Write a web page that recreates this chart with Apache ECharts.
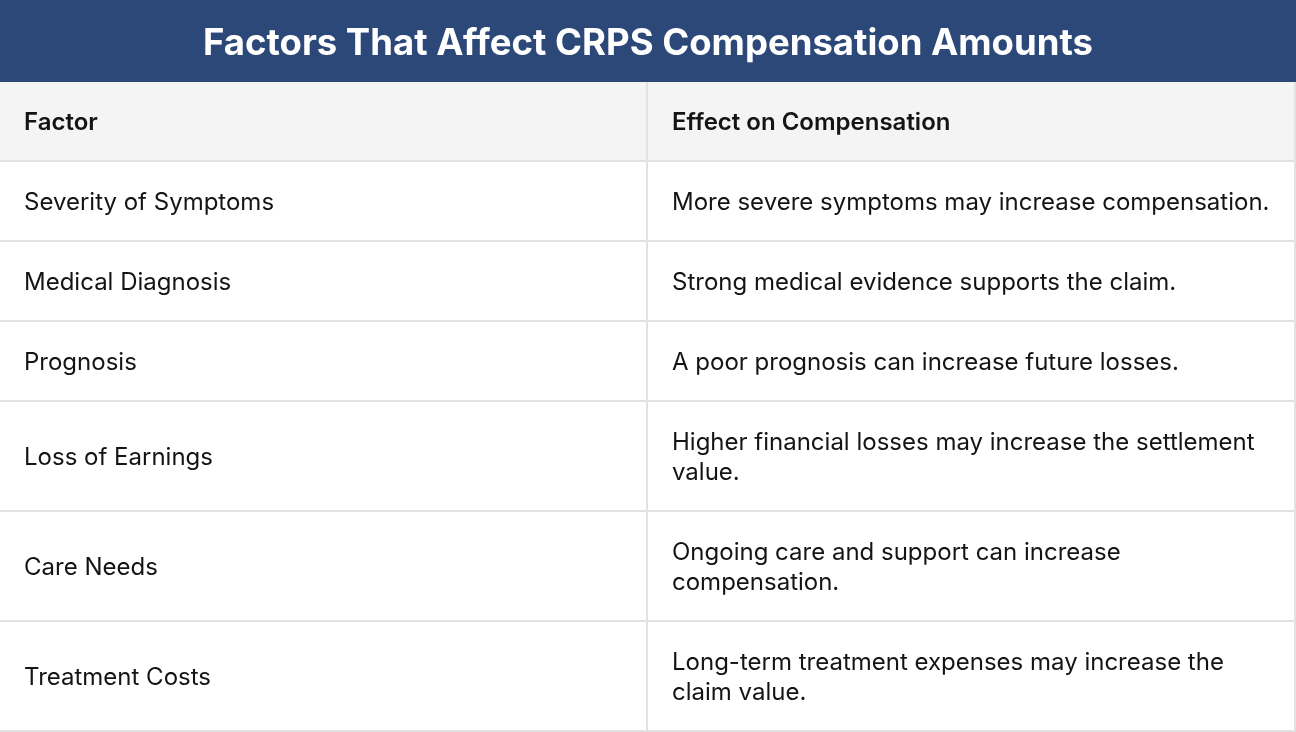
<!DOCTYPE html>
<html lang="en">
<head>
<meta charset="UTF-8">
<title>Factors That Affect CRPS Compensation Amounts</title>
<script src="https://cdn.jsdelivr.net/npm/echarts@6/dist/echarts.min.js"></script>
<style>
    html, body { margin: 0; padding: 0; background: #fff; }
    #table { width: 1296px; height: 732px; }
</style>
</head>
<body>
<div id="table"></div>
<script>
// 表格内容
var titleText = "Factors That Affect CRPS Compensation Amounts"
var headers = ["Factor", "Effect on Compensation"]
var factors = [
    "Severity of Symptoms",
    "Medical Diagnosis",
    "Prognosis",
    "Loss of Earnings",
    "Care Needs",
    "Treatment Costs"
]
var effects = [
    "More severe symptoms may increase compensation.",
    "Strong medical evidence supports the claim.",
    "A poor prognosis can increase future losses.",
    "Higher financial losses may increase the settlement\nvalue.",
    "Ongoing care and support can increase\ncompensation.",
    "Long-term treatment expenses may increase the\nclaim value."
]

// 版式
var W = 1296, H = 732
var titleH = 82, padX = 24, splitX = 647
var lineH = 30, rowPad = 50
var font = "Inter, 'Noto Sans', sans-serif"

// 行: 表头 + 内容, 高度按文字行数
var rows = [{a: headers[0], b: headers[1], head: true}]
factors.forEach(function (f, i) {
    rows.push({a: f, b: effects[i], head: false})
})
var data = []
var rowY = titleH
rows.forEach(function (r, i) {
    var lines = r.b.split("\n").length
    var h = rowPad + lineH * lines
    data.push([i, rowY, rowY + h])
    rowY += h
})

function renderRow(params, api) {
    var r = rows[api.value(0)]
    var p0 = api.coord([0, api.value(1)])
    var p1 = api.coord([W, api.value(2)])
    var mx = api.coord([splitX, 0])[0]
    var cy = (p0[1] + p1[1]) / 2 + 1
    var border = {stroke: "#e2e2e2", lineWidth: 2}
    function txt(s, x) {
        return {
            type: "text",
            style: {
                text: s, x: x, y: cy,
                fill: "#141414",
                fontSize: 24,
                fontFamily: font,
                fontWeight: r.head ? 600 : 400,
                verticalAlign: "middle",
                lineHeight: lineH
            }
        }
    }
    return {
        type: "group",
        children: [
            {type: "rect", shape: {x: p0[0], y: p0[1], width: p1[0] - p0[0], height: p1[1] - p0[1]},
             style: {fill: r.head ? "#f4f4f4" : "#ffffff"}},
            {type: "line", shape: {x1: p0[0], y1: p1[1] - 1, x2: p1[0], y2: p1[1] - 1}, style: border},
            {type: "line", shape: {x1: mx, y1: p0[1], x2: mx, y2: p1[1]}, style: border},
            {type: "line", shape: {x1: p1[0] - 1, y1: p0[1], x2: p1[0] - 1, y2: p1[1]}, style: border},
            txt(r.a, p0[0] + padX),
            txt(r.b, mx + 25)
        ]
    }
}

var chart = echarts.init(document.getElementById("table"))
chart.setOption({
    animation: false,
    backgroundColor: "#ffffff",
    grid: {left: 0, right: 0, top: 0, bottom: 0},
    xAxis: {type: "value", min: 0, max: W, show: false},
    yAxis: {type: "value", min: 0, max: H, inverse: true, show: false},
    graphic: [
        {type: "rect", shape: {x: 0, y: 0, width: W, height: titleH}, style: {fill: "#2b4878"}},
        {type: "text", x: W / 2, y: titleH / 2 + 3,
         style: {text: titleText, fill: "#ffffff", fontSize: 36.5, fontWeight: 700, fontFamily: font,
                 align: "center", verticalAlign: "middle"}}
    ],
    series: [{
        type: "custom",
        renderItem: renderRow,
        clip: false,
        encode: {x: 0, y: [1, 2]},
        data: data
    }]
})
</script>
</body>
</html>
